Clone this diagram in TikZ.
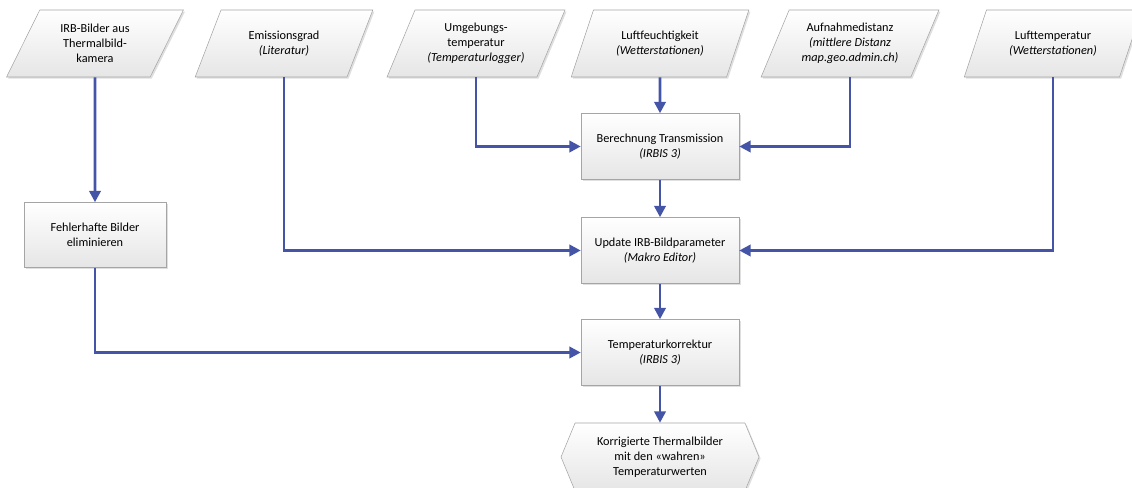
\documentclass[tikz,border=0pt]{standalone}
\usepackage{fontspec}
\setmainfont{Carlito}
\usetikzlibrary{shapes.geometric,shapes.symbols,arrows.meta,shadows}
\definecolor{flowblue}{RGB}{68,84,166}
\definecolor{boxline}{RGB}{165,165,165}

\begin{document}
\begin{tikzpicture}[x=0.75pt,y=-0.75pt,
  font=\fontsize{9.2}{11.3}\selectfont,
  box/.style={draw=boxline, top color=white, bottom color=black!10, align=center, inner sep=2pt,
    drop shadow={shadow xshift=1.2pt, shadow yshift=-1.2pt, opacity=0.25}},
  proc/.style={box, rectangle, minimum width=118.5pt, minimum height=49.5pt},
  data/.style={box, trapezium, trapezium left angle=63, trapezium right angle=117,
    trapezium stretches=true, minimum width=133.5pt, minimum height=50.25pt},
  result/.style={box, signal, signal to=west and east, signal pointer angle=135,
    minimum width=148.5pt, minimum height=51pt},
  flow/.style={draw=flowblue, line width=2pt, -{Triangle[length=8.5pt,width=8.5pt]}}]
\useasboundingbox (0,0) rectangle (1132,488);

% inputs
\node[data] (irb) at (95,43.5) {IRB-Bilder aus\\Thermalbild-\\kamera};
\node[data] (emis) at (284,43.5) {Emissionsgrad\\\textit{(Literatur)}};
\node[data] (umg) at (476,43.5) {Umgebungs-\\temperatur\\\textit{(Temperaturlogger)}};
\node[data] (luft) at (660,43.5) {Luftfeuchtigkeit\\\textit{(Wetterstationen)}};
\node[data] (dist) at (850,43.5) {Aufnahmedistanz\\\textit{(mittlere Distanz}\\\textit{map.geo.admin.ch)}};
\node[data] (ltemp) at (1053,43.5) {Lufttemperatur\\\textit{(Wetterstationen)}};

% steps
\node[proc] (trans) at (660,146.5) {Berechnung Transmission\\\textit{(IRBIS 3)}};
\node[proc] (update) at (660,250.5) {Update IRB-Bildparameter\\\textit{(Makro Editor)}};
\node[proc] (korr) at (660,352.5) {Temperaturkorrektur\\\textit{(IRBIS 3)}};
\node[proc, minimum width=106.5pt, minimum height=48.75pt] (fehler) at (95,235) {Fehlerhafte Bilder\\eliminieren};
\node[result] (out) at (660,457) {Korrigierte Thermalbilder\\mit den «wahren»\\Temperaturwerten};

% connectors
\draw[flow] (irb.south) -- (fehler.north);
\draw[flow] (emis.south) |- (update.west);
\draw[flow] (umg.south) |- (trans.west);
\draw[flow] (luft.south) -- (trans.north);
\draw[flow] (dist.south) |- (trans.east);
\draw[flow] (ltemp.south) |- (update.east);
\draw[flow] (trans.south) -- (update.north);
\draw[flow] (update.south) -- (korr.north);
\draw[flow] (fehler.south) |- (korr.west);
\draw[flow] (korr.south) -- (out.north);
\end{tikzpicture}
\end{document}
